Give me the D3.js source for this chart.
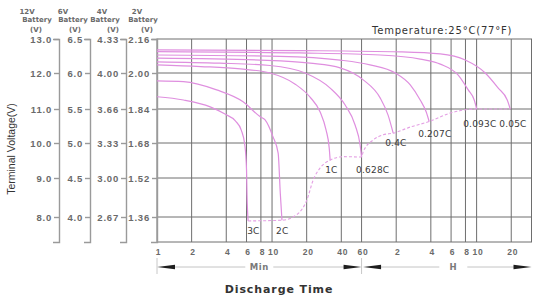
<!DOCTYPE html>
<html>
<head>
<meta charset="utf-8">
<script src="https://cdn.jsdelivr.net/npm/d3@7"></script>
<style>
  body { margin: 0; background: #fff; }
  svg { display: block; font-family: 'DejaVu Sans', sans-serif; }
  .vaxis .domain, .vaxis line { stroke: #9a9a9a; stroke-width: 1.4; }
  .vaxis text { font-size: 9.5px; font-weight: bold; fill: #6a6a6a; letter-spacing: 0.8px; }
  .xlab text { font-size: 8.5px; font-weight: bold; fill: #6a6a6a; letter-spacing: 0.8px; }
  .grid line { stroke: #6e6e6e; stroke-width: 1; }
  .curve { fill: none; stroke: #df8fdf; stroke-width: 1.2; }
  .endline { fill: none; stroke: #e4a0e4; stroke-width: 1.1; stroke-dasharray: 3,2; }
  .rate { font-size: 9px; fill: #3a3a3a; letter-spacing: 0.2px; }
  .head text { font-size: 7px; font-weight: bold; fill: #6a6a6a; text-anchor: middle; }
</style>
</head>
<body>
<div id="chart"></div>
<script>
// time in minutes, voltage read on the 12V scale
const c3C    = [[1, 11.34], [1.7, 11.25], [2.9, 11.06], [3.9, 10.85], [4.8, 10.65], [5.4, 10.38], [5.8, 9.94], [6.0, 9.23], [6.06, 8.56], [6.2, 7.89]];
const c2C    = [[1, 11.78], [1.7, 11.76], [3.3, 11.53], [5.6, 11.2], [7.9, 10.77], [8.7, 10.68], [10.2, 10.18], [11.3, 9.71], [11.8, 8.6], [12.2, 7.91]];
const c1C    = [[1, 12.24], [2.4, 12.19], [5.3, 12.12], [9.6, 12.0], [15.9, 11.69], [21.4, 11.33], [26.2, 10.91], [29.5, 10.38], [31.4, 9.86], [32, 9.51]];
const c0628C = [[1, 12.33], [3.5, 12.29], [9.6, 12.22], [19.4, 12.0], [32, 11.58], [43.2, 11.11], [52.7, 10.53], [58.3, 9.94], [60, 9.6]];
const c04C   = [[1, 12.44], [7.9, 12.38], [21.4, 12.29], [39.1, 12.15], [62, 11.81], [87, 11.31], [102, 10.82], [113, 10.29]];
const c0207C = [[1, 12.53], [11.7, 12.49], [39, 12.38], [71, 12.24], [118, 12.0], [159, 11.67], [194, 11.25], [219, 10.91], [232, 10.63]];
const c0093C = [[1, 12.63], [17.5, 12.59], [87, 12.53], [194, 12.41], [290, 12.26], [415, 11.94], [507, 11.53], [572, 11.25], [601, 11.0]];
const c005C  = [[1, 12.68], [17.5, 12.66], [130, 12.62], [290, 12.56], [478, 12.38], [713, 12.0], [925, 11.58], [1108, 11.25], [1177, 11.0]];
const endLine = [[6.2, 7.89], [12.2, 7.91], [16.4, 8.06], [20.1, 8.44], [22.8, 8.95], [26.2, 9.29], [32, 9.51], [41.7, 9.61], [60, 9.6],
                 [62, 9.75], [75.7, 10.09], [92.5, 10.24], [113, 10.29], [159, 10.47], [232, 10.63], [354, 10.88], [601, 11.0], [1177, 11.0]];

const rates = ['3C', '2C', '1C', '0.628C', '0.4C', '0.207C', '0.093C', '0.05C'];
const curves = [c3C, c2C, c1C, c0628C, c04C, c0207C, c0093C, c005C];

const volts12 = [13, 12, 11, 10, 9, 8];
const labels12 = ['13.0', '12.0', '11.0', '10.0', '9.0', '8.0'];
const labels6 = ['6.5', '6.0', '5.5', '5.0', '4.5', '4.0'];
const labels4 = ['4.33', '4.00', '3.66', '3.33', '3.00', '2.67'];
const labels2 = ['2.16', '2.00', '1.84', '1.68', '1.52', '1.36'];
const batteries = ['12V', '6V', '4V', '2V'];

const timeTicks = [1, 2, 4, 6, 8, 10, 20, 40, 60, 120, 240, 360, 480, 600, 1200];
const timeLabels = ['1', '2', '4', '6', '8', '10', '20', '40', '60', '2', '4', '6', '8', '10', '20'];

// label placement relative to the curve end
const labelNudge = {
    '3C': [-1, 13], '2C': [-6, 14], '1C': [-5, 13], '0.628C': [-5.5, 16],
    '0.4C': [-8, 13], '0.207C': [-11, 15], '0.093C': [-13.5, 18], '0.05C': [-11, 18]
};

const width = 534, height = 300;
const plotTop = 39, plotBottom = 242, plotLeft = 157, plotRight = 531.5;

const svg = d3.select('#chart').append('svg')
    .attr('width', width)
    .attr('height', height);

const x = d3.scaleLog().domain([1, 1800]).range([plotLeft, plotRight]);
const y = d3.scaleLinear()
    .domain([13, 12, 11, 10, 9, 8, 7.3])
    .range([plotTop, 73, 109, 143, 178, 217, plotBottom]);

// grid
const grid = svg.append('g').attr('class', 'grid');
grid.selectAll('.vg')
    .data(timeTicks.slice(1))
    .join('line')
    .attr('class', 'vg')
    .attr('x1', d => x(d)).attr('x2', d => x(d))
    .attr('y1', plotTop).attr('y2', plotBottom);
grid.selectAll('.hg')
    .data(volts12.slice(1))
    .join('line')
    .attr('class', 'hg')
    .attr('x1', plotLeft).attr('x2', plotRight)
    .attr('y1', d => y(d)).attr('y2', d => y(d));
svg.append('rect')
    .attr('x', plotLeft).attr('y', plotTop)
    .attr('width', plotRight - plotLeft).attr('height', plotBottom - plotTop)
    .attr('fill', 'none').attr('stroke', '#6e6e6e');

// left voltage scales, one per battery size
const axisX = [59, 90, 126, 157];
const headX = [37, 73, 105, 143];
const headShift = [[-10, -1], [-10, 2], [-3, 8], [-6, 4]];
[labels12, labels6, labels4, labels2].forEach(function(labs, i) {
    svg.append('g')
        .attr('class', 'vaxis')
        .attr('transform', `translate(${axisX[i]},0)`)
        .call(d3.axisLeft(y).tickValues(volts12)
            .tickFormat((d, j) => labs[j])
            .tickSize(5).tickSizeOuter(6).tickPadding(2));

    const head = svg.append('g').attr('class', 'head');
    head.append('text').attr('x', headX[i] + headShift[i][0]).attr('y', 14).text(batteries[i]);
    head.append('text').attr('x', headX[i]).attr('y', 22).text('Battery');
    head.append('text').attr('x', headX[i] + headShift[i][1]).attr('y', 32).text('(V)');
});
svg.selectAll('.vaxis .domain').attr('fill', 'none');

// time axis labels
svg.append('g')
    .attr('class', 'xlab')
    .attr('transform', `translate(1,${plotBottom})`)
    .call(d3.axisBottom(x).tickValues(timeTicks)
        .tickFormat((d, i) => timeLabels[i])
        .tickSize(0).tickPadding(6.5))
    .call(g => g.select('.domain').remove());

// discharge curves
const line = d3.line()
    .x(d => x(d[0]))
    .y(d => y(d[1]))
    .curve(d3.curveMonotoneX);

svg.selectAll('.curve')
    .data(curves)
    .join('path')
    .attr('class', 'curve')
    .attr('d', line);

svg.append('path')
    .datum(endLine)
    .attr('class', 'endline')
    .attr('d', line);

svg.selectAll('.rate')
    .data(rates)
    .join('text')
    .attr('class', 'rate')
    .attr('x', (d, i) => x(curves[i][curves[i].length - 1][0]) + labelNudge[d][0])
    .attr('y', (d, i) => y(curves[i][curves[i].length - 1][1]) + labelNudge[d][1])
    .text(d => d);

// Min / H ranges
const arrowY = 267;
const sep = [x(1), x(60), x(1800)];
const arrows = svg.append('g');
[[sep[0], sep[1], 'Min', 0], [sep[1] + 1.5, sep[2], 'H', 6]].forEach(function(r) {
    const a = r[0], b = r[1], mid = (a + b) / 2 + r[3];
    arrows.append('line')
        .attr('x1', a + 10).attr('x2', mid - 14)
        .attr('y1', arrowY).attr('y2', arrowY)
        .attr('stroke', '#b5b5b5').attr('stroke-width', 0.8);
    arrows.append('line')
        .attr('x1', mid + 14).attr('x2', b - 10)
        .attr('y1', arrowY).attr('y2', arrowY)
        .attr('stroke', '#b5b5b5').attr('stroke-width', 0.8);
    arrows.append('path')
        .attr('d', `M${a},${arrowY}L${a + 18},${arrowY - 2.2}L${a + 18},${arrowY + 2.2}Z`)
        .attr('fill', '#1e1e1e');
    arrows.append('path')
        .attr('d', `M${b},${arrowY}L${b - 18},${arrowY - 2.2}L${b - 18},${arrowY + 2.2}Z`)
        .attr('fill', '#1e1e1e');
    arrows.append('text')
        .attr('x', mid).attr('y', arrowY + 3)
        .attr('text-anchor', 'middle')
        .attr('font-size', 8.5).attr('font-weight', 'bold')
        .attr('fill', '#7a7a7a').attr('letter-spacing', 0.6)
        .text(r[2]);
});
sep.slice(0, 2).forEach(function(sx) {
    arrows.append('line')
        .attr('x1', sx).attr('x2', sx)
        .attr('y1', 258).attr('y2', 274)
        .attr('stroke', '#c8c8c8');
});

// titles
svg.append('text')
    .attr('x', 372).attr('y', 34)
    .attr('font-size', 10).attr('fill', '#333')
    .attr('letter-spacing', 0.8)
    .text('Temperature:25°C(77°F)');

svg.append('text')
    .attr('transform', 'translate(15,149) rotate(-90)')
    .attr('text-anchor', 'middle')
    .attr('font-family', 'Liberation Sans, Arial, sans-serif')
    .attr('font-size', 10.5).attr('fill', '#333')
    .text('Terminal Voltage(V)');

svg.append('text')
    .attr('x', 279).attr('y', 293)
    .attr('text-anchor', 'middle')
    .attr('font-size', 11).attr('font-weight', 'bold')
    .attr('fill', '#333').attr('letter-spacing', 0.9)
    .text('Discharge Time');
</script>
</body>
</html>
